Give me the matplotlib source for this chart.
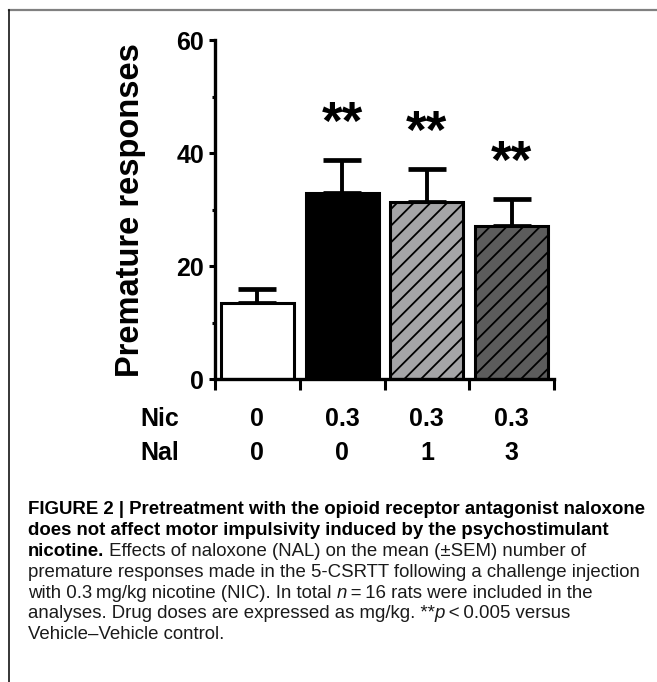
import matplotlib
matplotlib.use("Agg")
import matplotlib.pyplot as plt
from matplotlib.lines import Line2D
import numpy as np

# data
nic_doses = ["0", "0.3", "0.3", "0.3"]
nal_doses = ["0", "0", "1", "3"]
means = [13.5, 32.9, 31.3, 27.2]
sems = [2.4, 6.0, 5.9, 4.7]
stars = ["", "**", "**", "**"]
fills = ["white", "black", "#a5a5a7", "#5c5c5c"]
hatches = [None, None, "//", "//"]

caption = [
    [("FIGURE 2 | Pretreatment with the opioid receptor antagonist naloxone", "bold", "normal")],
    [("does not affect motor impulsivity induced by the psychostimulant", "bold", "normal")],
    [("nicotine.", "bold", "normal"),
     (" Effects of naloxone (NAL) on the mean (\u00b1SEM) number of", "normal", "normal")],
    [("premature responses made in the 5-CSRTT following a challenge injection", "normal", "normal")],
    [("with 0.3\u2009mg/kg nicotine (NIC). In total ", "normal", "normal"),
     ("n", "normal", "italic"),
     ("\u2009=\u200916 rats were included in the", "normal", "normal")],
    [("analyses. Drug doses are expressed as mg/kg. **", "normal", "normal"),
     ("p", "normal", "italic"),
     ("\u2009<\u20090.005 versus", "normal", "normal")],
    [("Vehicle\u2013Vehicle control.", "normal", "normal")],
]

plt.rcParams['font.family'] = ['Liberation Sans', 'DejaVu Sans']
plt.rcParams['hatch.linewidth'] = 1.3

W, H = 657, 682
fig = plt.figure(figsize=(W / 100, H / 100), dpi=100)
ax = fig.add_axes([215 / W, 1 - 379.3 / H, 339 / W, 339 / H])

x = np.arange(len(means))
for i in range(len(means)):
    ax.bar(x[i], means[i], width=0.86, color=fills[i], edgecolor="black",
           linewidth=2.2, hatch=hatches[i], zorder=2)
ax.errorbar(x, means, yerr=[np.zeros(len(sems)), sems], fmt="none",
            ecolor="black", elinewidth=2.8, capsize=13.5, capthick=3.4, zorder=1)

for i, s in enumerate(stars):
    if s:
        ax.text(x[i], means[i] + sems[i] + 3.7, s, ha="center", va="baseline",
                fontsize=38, fontweight="bold")

ax.set_xlim(-0.5, 3.5)
ax.set_ylim(0, 60)
ax.set_yticks([0, 20, 40, 60])
ax.set_yticks([10, 30, 50], minor=True)
ax.set_xticks(np.arange(-0.5, 4, 1.0))
ax.set_xticklabels([])
ax.tick_params(axis="y", which="major", direction="out", length=4, width=2.2,
               pad=4, labelsize=18)
ax.tick_params(axis="y", which="minor", direction="out", length=2.5, width=2.2)
ax.tick_params(axis="x", direction="out", length=8, width=2.2)
for lab in ax.get_yticklabels():
    lab.set_fontweight("bold")
for side in ["top", "right"]:
    ax.spines[side].set_visible(False)
for side in ["left", "bottom"]:
    ax.spines[side].set_linewidth(2.4)

ax.set_ylabel("Premature responses", fontsize=23.5, fontweight="bold")
ax.yaxis.set_label_coords(-0.205, 0.5)

# dose rows under the axis
tr = ax.get_xaxis_transform()
row_y = [-0.1378, -0.238]
for ry, name, vals in zip(row_y, ["Nic", "Nal"], [nic_doses, nal_doses]):
    ax.text(-0.162, ry, name, transform=ax.transAxes, ha="center", va="baseline",
            fontsize=18, fontweight="bold")
    for i, v in enumerate(vals):
        ax.text(x[i], ry, v, transform=tr, ha="center", va="baseline",
                fontsize=18, fontweight="bold")

# frame lines
fig.add_artist(Line2D([9 / W, 1], [1 - 10 / H, 1 - 10 / H], color="#808080", lw=1.6))
fig.add_artist(Line2D([9 / W, 9 / W], [1 - 10 / H, 0], color="black", lw=1.1))

# caption, laid out run by run
renderer = fig.canvas.get_renderer()
probe = fig.text(0, 0, caption[0][0][0], fontsize=10, fontweight="bold")
w10 = probe.get_window_extent(renderer).width
probe.remove()
cap_size = 10 * 619 / w10

base0 = 514
for k, runs in enumerate(caption):
    xpix = 28
    ypix = base0 + k * 20.9
    for txt, weight, style in runs:
        t = fig.text(xpix / W, 1 - ypix / H, txt, fontsize=cap_size,
                     fontweight=weight, fontstyle=style, va="baseline",
                     color="black" if weight == "bold" else "#1a1a1a",
                     family=['Liberation Sans', 'DejaVu Sans'])
        xpix += t.get_window_extent(renderer).width

fig.savefig("out.png", dpi=100)
